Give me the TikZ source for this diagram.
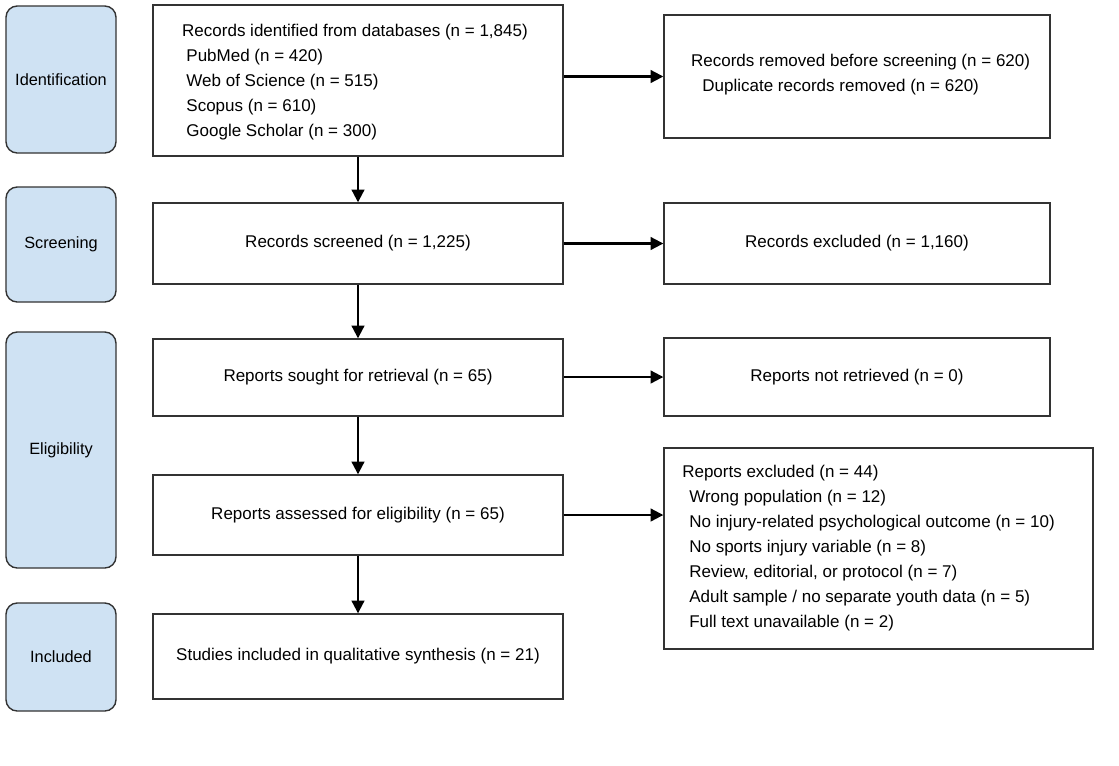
\documentclass[tikz,border=0pt]{standalone}
\usepackage{fontspec}
\setmainfont{Liberation Sans}
\usetikzlibrary{arrows.meta, calc, positioning}
\definecolor{phaseblue}{HTML}{CFE2F3}
\definecolor{edgegray}{HTML}{333333}
\tikzstyle{phase} = [rectangle, rounded corners=0.28cm, minimum width=2.75cm, text centered, draw=edgegray, fill=phaseblue, line width=1pt, font=\fontsize{11.6}{14}\selectfont]
\tikzstyle{box} = [rectangle, minimum width=10.25cm, draw=edgegray, fill=white, line width=1pt]
\tikzstyle{sidebox} = [rectangle, minimum width=9.65cm, draw=edgegray, fill=white, line width=1pt]
\tikzstyle{boxtext} = [align=left, font=\fontsize{12.1}{17.8}\selectfont]
\tikzstyle{flowchartarrow} = [line width=1.5pt, -{Triangle[length=9pt, width=9pt]}]

\begin{document}
\begin{tikzpicture}
    \useasboundingbox (0,0) rectangle (27.975,-19.125);

    % Phases
    \node (ident) [phase, minimum height=3.675cm] at (1.525,-1.9875) {Identification};
    \node (screen) [phase, minimum height=2.875cm] at (1.525,-6.1125) {Screening};
    \node (elig) [phase, minimum height=5.9cm] at (1.525,-11.25) {Eligibility};
    \node (incl) [phase, minimum height=2.7cm] at (1.525,-16.425) {Included};

    % Nodes
    \node (b1) [box, minimum height=3.775cm] at (8.95,-2.0125) {};
    \node (b2) [box, minimum height=2.025cm] at ($(b1)+(0,-4.075)$) {};
    \node (b3) [box, minimum height=1.925cm] at ($(b2)+(0,-3.35)$) {};
    \node (b4) [box, minimum height=2.0cm] at ($(b3)+(0,-3.4375)$) {};
    \node (b5) [box, minimum height=2.125cm] at ($(b4)+(0,-3.5375)$) {};

    \node (r1) [sidebox, minimum height=3.075cm] at ($(b1)+(12.475,0.1)$) {};
    \node (r2) [sidebox, minimum height=2.025cm] at ($(b2)+(12.475,0)$) {};
    \node (r3) [sidebox, minimum height=1.95cm] at ($(b3)+(12.475,0.0125)$) {};
    \node (r4) [sidebox, minimum width=10.725cm, minimum height=5.025cm] at ($(b4)+(13.0125,-0.8375)$) {};

    \node (t1) [boxtext] at ($(b1.center)+(-0.075,-0.03)$) {Records identified from databases (n = 1,845)\\
        \hspace*{3pt}PubMed (n = 420)\\ \hspace*{3pt}Web of Science (n = 515)\\
        \hspace*{3pt}Scopus (n = 610)\\ \hspace*{3pt}Google Scholar (n = 300)};
    \node (t2) [boxtext] at (b2.center) {Records screened (n = 1,225)};
    \node (t3) [boxtext] at (b3.center) {Reports sought for retrieval (n = 65)};
    \node (t4) [boxtext] at (b4.center) {Reports assessed for eligibility (n = 65)};
    \node (t5) [boxtext] at (b5.center) {Studies included in qualitative synthesis (n = 21)};

    \node (s1) [boxtext] at ($(r1.center)+(0.09,0.04)$) {Records removed before screening (n = 620)\\
        \hspace*{8pt}Duplicate records removed (n = 620)};
    \node (s2) [boxtext] at (r2.center) {Records excluded (n = 1,160)};
    \node (s3) [boxtext] at (r3.center) {Reports not retrieved (n = 0)};
    \node (s4) [boxtext, anchor=west] at ($(r4.west)+(0.35,0)$) {Reports excluded (n = 44)\\
        \hspace*{5pt}Wrong population (n = 12)\\
        \hspace*{5pt}No injury-related psychological outcome (n = 10)\\
        \hspace*{5pt}No sports injury variable (n = 8)\\
        \hspace*{5pt}Review, editorial, or protocol (n = 7)\\
        \hspace*{5pt}Adult sample / no separate youth data (n = 5)\\
        \hspace*{5pt}Full text unavailable (n = 2)};

    \draw [flowchartarrow] (b1.south) -- (b2.north);
    \draw [flowchartarrow] (b2.south) -- (b3.north);
    \draw [flowchartarrow] (b3.south) -- (b4.north);
    \draw [flowchartarrow] (b4.south) -- (b5.north);

    \draw [flowchartarrow] (r1.west -| b1.east) -- (r1.west);
    \draw [flowchartarrow] (b2.east) -- (r2.west);
    \draw [flowchartarrow] (r3.west -| b3.east) -- (r3.west);
    \draw [flowchartarrow] (b4.east) -- (b4.east -| r4.west);
\end{tikzpicture}
\end{document}
